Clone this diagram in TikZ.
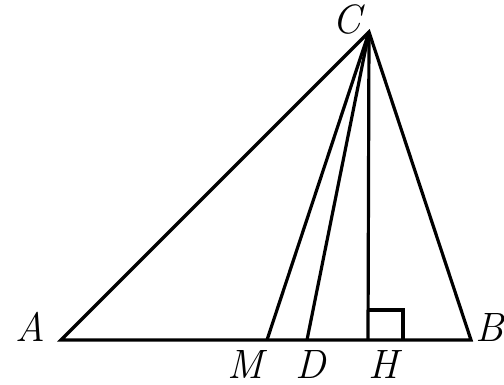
\documentclass[tikz,border=0pt]{standalone}
\begin{document}
\begin{tikzpicture}[x=1pt,y=-1pt,
  seg/.style={line width=3.2pt, line join=miter},
  lbl/.style={font=\fontsize{41}{41}\selectfont\itshape, inner sep=0pt}]
\useasboundingbox (0,0) rectangle (504,385);
\coordinate (A) at (61,340);
\coordinate (B) at (471,340);
\coordinate (C) at (369,32);
\coordinate (M) at (267,340);
\coordinate (D) at (307,340);
\coordinate (H) at (368,340);
\draw[seg] (A) -- (B) -- (C) -- cycle;
\draw[seg] (C) -- (M);
\draw[seg] (C) -- (D);
\draw[seg] (C) -- (H);
\draw[seg] (H) ++(0,-30) -- ++(35,0) -- ++(0,30);
\node[lbl] (lA) at (30,327) {A};
\node[lbl] (lB) at (490,327) {B};
\node[lbl] (lC) at (347,19) {C};
\node[lbl] (lM) at (245,364) {M};
\node[lbl] (lD) at (311,364) {D};
\node[lbl] (lH) at (383,364) {H};
\end{tikzpicture}
\end{document}
